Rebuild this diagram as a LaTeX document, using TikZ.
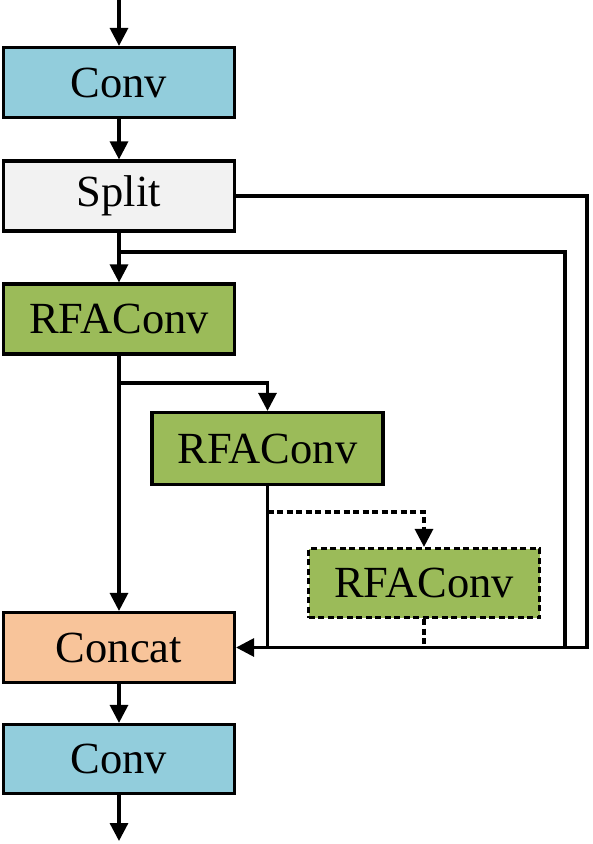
\documentclass[tikz,border=0pt]{standalone}
\usepackage{fontspec}
\setmainfont{Liberation Serif}
\usepackage{xcolor}
\usetikzlibrary{arrows.meta,positioning,calc}
\definecolor{convblue}{RGB}{146,205,220}
\definecolor{splitgray}{RGB}{242,242,242}
\definecolor{rfagreen}{RGB}{155,187,89}
\definecolor{catorange}{RGB}{248,196,154}
\tikzset{
  block/.style={draw=black,line width=3.2pt,minimum width=231pt,minimum height=70pt,
    inner sep=0pt,font=\fontsize{44.5}{50}\selectfont},
  line/.style={line width=3.2pt},
  arr/.style={line width=3.2pt,-{Triangle[length=18pt,width=18pt]}},
  dashline/.style={dash pattern=on 6pt off 3.5pt}
}
\begin{document}
\begin{tikzpicture}[x=1pt,y=-1pt]
      \useasboundingbox (0,0) rectangle (593,844);

      \node[block,fill=convblue] at (119,82.5) (conv1) {Conv};
      \node[block,fill=splitgray] at (119,196) (split) {Split};
      \node[block,fill=rfagreen] at (119,319) (rfa1) {RFAConv};
      \node[block,fill=rfagreen,minimum height=72pt] at (267.5,448.5) (rfa2) {RFAConv};
      \node[block,fill=rfagreen,dashline,minimum height=69pt] at (424,583) (rfa3) {RFAConv};
      \node[block,fill=catorange] at (119,647.5) (concat) {Concat};
      \node[block,fill=convblue,minimum height=69pt] at (119,759) (conv2) {Conv};

      \coordinate (in) at (119,0);
      \coordinate (out) at (119,841);
      \coordinate (bsplit) at (119,252);
      \coordinate (brfa1) at (119,383);
      \coordinate (brfa2) at (267.5,512);
      \coordinate (outer) at (587,647.5);
      \coordinate (inner) at (565,647.5);

      \draw[arr] (in) -- (conv1);
      \draw[arr] (conv1) -- (split);
      \draw[arr] (split) -- (rfa1);
      \draw[arr] (rfa1) -- (concat);
      \draw[arr] (concat) -- (conv2);
      \draw[arr] (conv2) -- (out);

      \draw[arr] (split.east) -| (outer) -- (concat.east);
      \draw[line] (bsplit) -| (inner);
      \draw[arr] (brfa1) -| (rfa2);
      \draw[line] (rfa2.south) -- (rfa2.south |- outer);
      \draw[arr,dashline] (brfa2) -| (rfa3);
      \draw[line,dashline] (rfa3.south) -- (rfa3.south |- outer);
    \end{tikzpicture}
\end{document}
